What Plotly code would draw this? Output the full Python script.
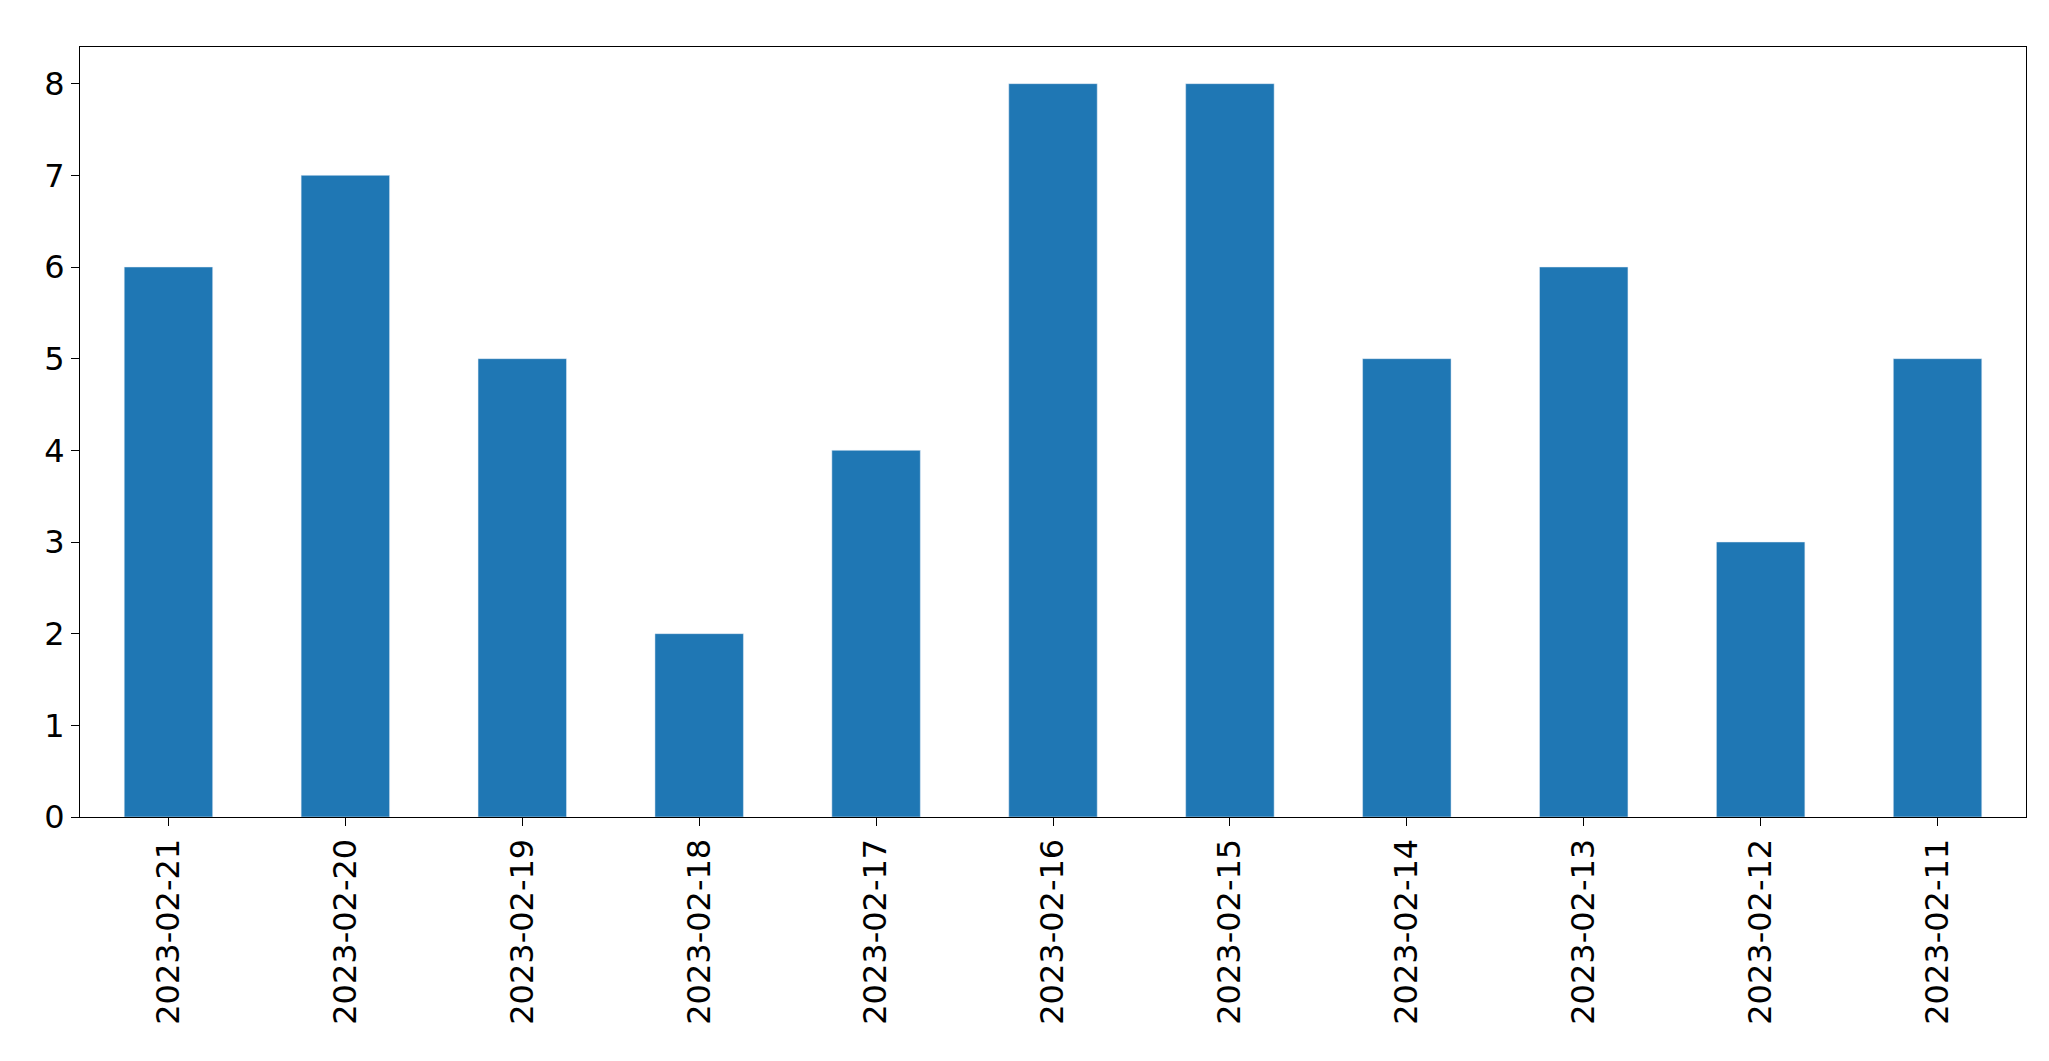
import plotly.graph_objects as go

dates = ["2023-02-21","2023-02-20","2023-02-19","2023-02-18","2023-02-17","2023-02-16",
         "2023-02-15","2023-02-14","2023-02-13","2023-02-12","2023-02-11"]
counts = [6,7,5,2,4,8,8,5,6,3,5]

fig = go.Figure(go.Bar(x=list(range(len(dates))), y=counts, width=0.5, marker_color="#1f77b4"))
fig.update_layout(
    width=2049, height=1061, margin=dict(l=72, r=31, t=39, b=252),
    plot_bgcolor="white", paper_bgcolor="white", showlegend=False,
    font=dict(family="DejaVu Sans", size=32, color="black"),
)
fig.update_xaxes(range=[-0.5, 10.5], tickvals=list(range(len(dates))), ticktext=dates,
                 tickangle=-90, ticks="outside", ticklen=8, tickcolor="black",
                 showline=True, linecolor="black", mirror=True, showgrid=False)
fig.update_yaxes(range=[0, 8.4], dtick=1, ticks="outside", ticklen=8, tickcolor="black",
                 showline=True, linecolor="black", mirror=True, showgrid=False, zeroline=False)
fig.write_html("out.html")
